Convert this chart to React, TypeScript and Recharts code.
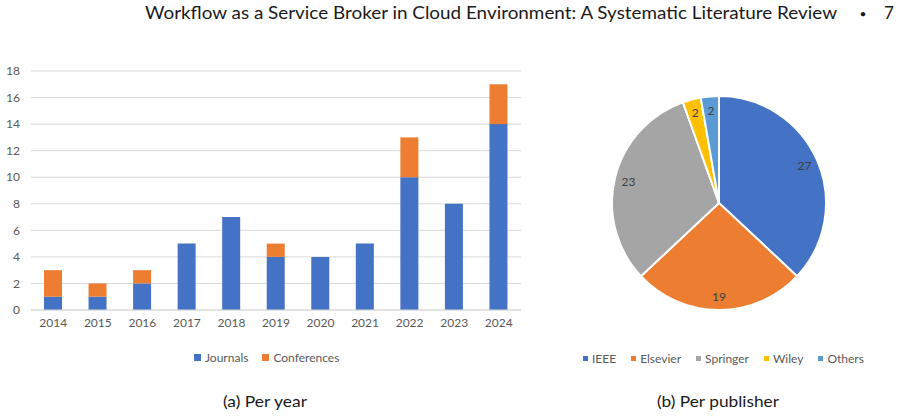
import React from "react";
import { BarChart, Bar, XAxis, YAxis, CartesianGrid, Legend, PieChart, Pie, Cell } from "recharts";

// Publications per year, split by venue type
const years = ["2014", "2015", "2016", "2017", "2018", "2019", "2020", "2021", "2022", "2023", "2024"];
const journals = [1, 1, 2, 5, 7, 4, 4, 5, 10, 8, 14];
const conferences = [2, 1, 1, 0, 0, 1, 0, 0, 3, 0, 3];
const yTicks = [0, 2, 4, 6, 8, 10, 12, 14, 16, 18];

// Publications per publisher
const publishers = ["IEEE", "Elsevier", "Springer", "Wiley", "Others"];
const publisherCounts = [27, 19, 23, 2, 2];
const publisherColors = ["#4472C4", "#ED7D31", "#A5A5A5", "#FFC000", "#5B9BD5"];

const BLUE = "#4472C4";
const ORANGE = "#ED7D31";
const TEXT = "#595959";
const GRID = "#D9D9D9";
const FONT = "Lato, 'Open Sans', sans-serif";

const yearData = years.map((y, i) => ({ year: y, Journals: journals[i], Conferences: conferences[i] }));
const pubData = publishers.map((p, i) => ({ name: p, value: publisherCounts[i] }));

const RAD = Math.PI / 180;

const renderPieLabel = (props: any) => {
  const { cx, cy, midAngle, outerRadius, value } = props;
  const r = outerRadius * 0.87;
  const x = cx + r * Math.cos(-midAngle * RAD);
  const y = cy + r * Math.sin(-midAngle * RAD);
  return (
    <text x={x} y={y} fill="#404040" fontSize={12} fontFamily={FONT} textAnchor="middle" dominantBaseline="central">
      {value}
    </text>
  );
};

const BarLegend = () => (
  <div style={{ height: 38, width: 530, position: "relative", fontFamily: FONT, fontSize: 12, color: TEXT }}>
    <div style={{ position: "absolute", top: 10, left: 194, display: "flex", alignItems: "center", whiteSpace: "nowrap" }}>
      <span style={{ width: 7, height: 7, background: BLUE, display: "inline-block", marginRight: 4 }} />
      <span>Journals</span>
      <span style={{ width: 7, height: 7, background: ORANGE, display: "inline-block", marginLeft: 14, marginRight: 4 }} />
      <span>Conferences</span>
    </div>
  </div>
);

const PieLegend = () => (
  <div style={{ height: 40, width: 320, position: "relative", fontFamily: FONT, fontSize: 12, color: TEXT }}>
    <div style={{ position: "absolute", top: 11, left: 23, display: "flex", alignItems: "center", whiteSpace: "nowrap" }}>
      {publishers.map((p, i) => (
        <span key={p} style={{ display: "flex", alignItems: "center", marginRight: 15 }}>
          <span style={{ width: 5, height: 5, background: publisherColors[i], display: "inline-block", marginRight: 4 }} />
          <span>{p}</span>
        </span>
      ))}
    </div>
  </div>
);

export default function App() {
  return (
    <div style={{ position: "absolute", left: 0, top: 0, width: 902, height: 418, background: "#fff", overflow: "hidden" }}>
      <svg width={902} height={418} style={{ position: "absolute", left: 0, top: 0 }}>
        <text x={145} y={19} fontSize={17} fontFamily={FONT} fill="#1a1a1a" textLength={692} lengthAdjust="spacingAndGlyphs">
          Workflow as a Service Broker in Cloud Environment: A Systematic Literature Review
        </text>
        <text x={863} y={18} fontSize={12} fontFamily={FONT} fill="#1a1a1a" textAnchor="middle">•</text>
        <text x={889} y={19} fontSize={17} fontFamily={FONT} fill="#1a1a1a" textAnchor="middle">7</text>
        <text x={223} y={407} fontSize={16} fontFamily={FONT} fill="#1a1a1a" textLength={84} lengthAdjust="spacingAndGlyphs">(a) Per year</text>
        <text x={657} y={407} fontSize={16} fontFamily={FONT} fill="#1a1a1a" textLength={122} lengthAdjust="spacingAndGlyphs">(b) Per publisher</text>
      </svg>

      <div style={{ position: "absolute", left: 0, top: 60 }}>
        <BarChart width={530} height={318} data={yearData} margin={{ top: 11, right: 9, bottom: 0, left: 0 }}>
          <CartesianGrid vertical={false} stroke={GRID} strokeWidth={1} />
          <XAxis
            dataKey="year"
            axisLine={{ stroke: GRID }}
            tickLine={false}
            height={30}
            tick={{ fill: TEXT, fontSize: 12, fontFamily: FONT }}
            interval={0}
          />
          <YAxis
            width={31}
            domain={[0, 18]}
            ticks={yTicks}
            axisLine={false}
            tickLine={false}
            tickMargin={5}
            tick={{ fill: TEXT, fontSize: 12, fontFamily: FONT }}
          />
          <Legend verticalAlign="bottom" content={<BarLegend />} />
          <Bar dataKey="Journals" stackId="a" fill={BLUE} barSize={18} isAnimationActive={false} />
          <Bar dataKey="Conferences" stackId="a" fill={ORANGE} barSize={18} isAnimationActive={false} />
        </BarChart>
      </div>

      <div style={{ position: "absolute", left: 560, top: 80 }}>
        <PieChart width={320} height={300} margin={{ top: 0, right: 0, bottom: 0, left: 0 }}>
          <Pie
            data={pubData}
            dataKey="value"
            nameKey="name"
            cx={159}
            cy={123}
            outerRadius={107}
            startAngle={90}
            endAngle={-270}
            stroke="#fff"
            strokeWidth={2}
            label={renderPieLabel}
            labelLine={false}
            isAnimationActive={false}
          >
            {pubData.map((d, i) => (
              <Cell key={d.name} fill={publisherColors[i]} />
            ))}
          </Pie>
          <Legend verticalAlign="bottom" content={<PieLegend />} />
        </PieChart>
      </div>
    </div>
  );
}
